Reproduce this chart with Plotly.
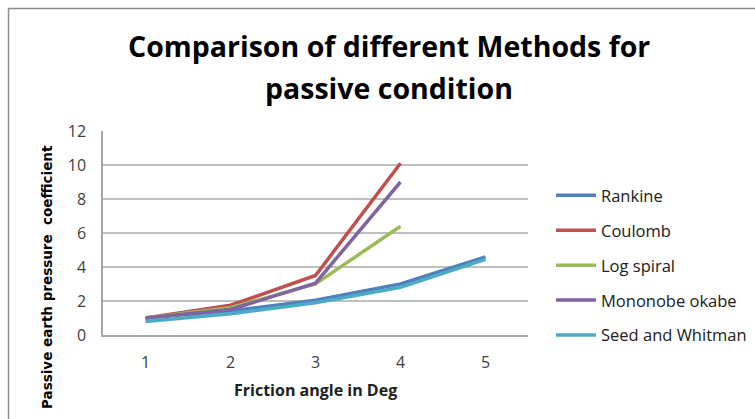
import plotly.graph_objects as go

# Friction angle categories and passive earth pressure coefficients
categories = ["1", "2", "3", "4", "5"]
rankine = [1.0, 1.42, 2.04, 3.0, 4.6]
coulomb = [1.0, 1.75, 3.5, 10.1]
log_spiral = [1.0, 1.6, 3.0, 6.4]
mononobe_okabe = [1.0, 1.5, 3.05, 9.0]
seed_whitman = [0.8, 1.25, 1.9, 2.8, 4.45]

series = [
    ("Rankine", rankine, "#4F81BD"),
    ("Coulomb", coulomb, "#C0504D"),
    ("Log spiral", log_spiral, "#9BBB59"),
    ("Mononobe okabe", mononobe_okabe, "#8064A2"),
    ("Seed and Whitman", seed_whitman, "#4BACC6"),
]

W, H = 755, 419
ML, MR, MT, MB = 103, 227, 131, 84
PW, PH = W - ML - MR, H - MT - MB

fig = go.Figure()
for i, (name, vals, color) in enumerate(series):
    fig.add_trace(go.Scatter(
        x=categories[:len(vals)], y=vals, name=name, mode="lines",
        line=dict(color=color, width=3.5),
        legendgroup=f"g{i}",
    ))

def px_x(p):
    return (p - ML) / PW

def px_y(p):
    return 1 - (p - MT) / PH

base_font = "Open Sans, Calibri, sans-serif"

fig.update_layout(
    width=W, height=H,
    margin=dict(l=ML, r=MR, t=MT, b=MB, autoexpand=False),
    paper_bgcolor="white", plot_bgcolor="white",
    font=dict(family=base_font, size=15, color="#404040"),
    showlegend=True,
    legend=dict(
        x=px_x(551), y=px_y(178), xanchor="left", yanchor="top",
        traceorder="grouped", tracegroupgap=10.5,
        font=dict(family=base_font, size=16.5, color="#202020"),
        itemwidth=40,
    ),
    xaxis=dict(
        type="category", range=[-0.5, 4.5],
        showgrid=False, showline=True, linecolor="#A6A6A6", linewidth=1.5,
        ticks="", ticklabelstandoff=12,
        tickfont=dict(size=16, color="#404040"),
    ),
    yaxis=dict(
        range=[0, 12], dtick=2,
        showgrid=True, gridcolor="#BFBFBF", gridwidth=1.5,
        showline=True, linecolor="#A6A6A6", linewidth=1.5,
        zeroline=False, ticks="", ticklabelstandoff=12,
        tickfont=dict(size=16, color="#404040"),
    ),
    annotations=[
        dict(text="<b>Comparison of different Methods for</b>", xref="paper", yref="paper",
             x=px_x(389), y=px_y(46), xanchor="center", yanchor="middle", showarrow=False,
             font=dict(family=base_font, size=28.5, color="#000000")),
        dict(text="<b>passive condition</b>", xref="paper", yref="paper",
             x=px_x(389), y=px_y(88), xanchor="center", yanchor="middle", showarrow=False,
             font=dict(family=base_font, size=28.5, color="#000000")),
        dict(text="<b>Friction angle in Deg</b>", xref="paper", yref="paper",
             x=px_x(315), y=px_y(390), xanchor="center", yanchor="middle", showarrow=False,
             font=dict(family=base_font, size=16, color="#202020")),
        dict(text="<b>Passive earth pressure  coefficient</b>", xref="paper", yref="paper",
             x=px_x(47), y=px_y(277), xanchor="center", yanchor="middle", showarrow=False,
             textangle=-90,
             font=dict(family="DejaVu Sans", size=13.5, color="#000000")),
    ],
    shapes=[
        dict(type="rect", xref="paper", yref="paper",
             x0=px_x(8.5), x1=px_x(W + 20), y0=px_y(H + 20), y1=px_y(8.5),
             line=dict(color="#8C8C8C", width=1.5), layer="below"),
    ],
)

fig.write_html("out.html")
